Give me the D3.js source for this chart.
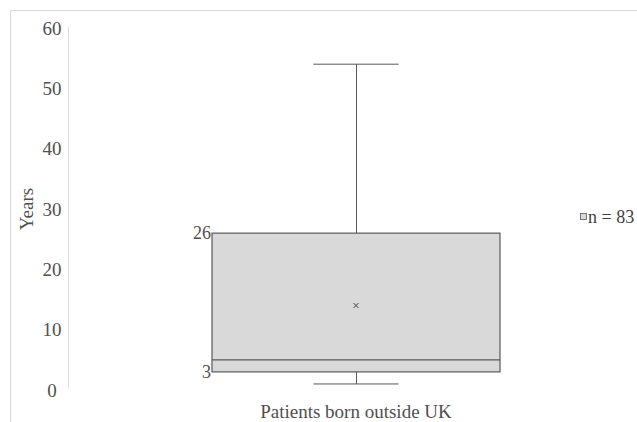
<!DOCTYPE html>
<html><head><meta charset="utf-8">
<script src="https://cdn.jsdelivr.net/npm/d3@7"></script>
<style>body{margin:0;background:#fff}svg{display:block}</style>
</head><body>
<script>
const categories = ["Patients born outside UK"];
const minVals = [1];
const q1Vals = [3];
const medianVals = [5];
const q3Vals = [26];
const maxVals = [54];
const meanVals = [14];
const yTicks = [0, 10, 20, 30, 40, 50, 60];
const legendLabels = ["n = 83"];
const yTitle = "Years";

const W = 637, H = 422;
const svg = d3.select("body").append("svg").attr("width", W).attr("height", H);
const font = "'Liberation Serif', 'Times New Roman', serif";
const textCol = "#505050";

// outer chart border
svg.append("rect").attr("x", 10.5).attr("y", 10.5).attr("width", 700).attr("height", 500)
  .attr("fill", "none").attr("stroke", "#d9d9d9");

const y = d3.scaleLinear().domain([0, 60]).range([390, 28]);

// y axis line
svg.append("line").attr("x1", 68.5).attr("x2", 68.5).attr("y1", y(60) - 1).attr("y2", y(0) - 2)
  .attr("stroke", "#d9d9d9");

const yAxis = d3.axisLeft(y).tickValues(yTicks).tickSize(0).tickPadding(0);
const gy = svg.append("g").attr("transform", "translate(52,0)").call(yAxis)
  .attr("font-family", font).attr("font-size", 19);
gy.select(".domain").remove();
gy.selectAll("text").style("font-family", font).style("font-size", "19px").attr("fill", textCol).attr("text-anchor", "middle");

svg.append("text").attr("transform", `translate(33,${y(30)}) rotate(-90)`)
  .attr("text-anchor", "middle").style("font-family", font).style("font-size", "19px").attr("fill", textCol).text(yTitle);

const x = d3.scaleBand().domain(categories).range([212, 500]);

categories.forEach((c, i) => {
  const boxX0 = x(c), boxX1 = x(c) + x.bandwidth();
  const cx = boxX0 + x.bandwidth() / 2;
  const capHalf = x.bandwidth() * 0.148;
  const g = svg.append("g");
  const stroke = "#595959";
  // whiskers
  g.append("line").attr("x1", cx + .5).attr("x2", cx + .5).attr("y1", y(maxVals[i])).attr("y2", y(q3Vals[i])).attr("stroke", stroke);
  g.append("line").attr("x1", cx + .5).attr("x2", cx + .5).attr("y1", y(q1Vals[i])).attr("y2", y(minVals[i])).attr("stroke", stroke);
  g.append("line").attr("x1", cx - capHalf).attr("x2", cx + capHalf).attr("y1", y(maxVals[i])).attr("y2", y(maxVals[i])).attr("stroke", stroke);
  g.append("line").attr("x1", cx - capHalf).attr("x2", cx + capHalf).attr("y1", y(minVals[i])).attr("y2", y(minVals[i])).attr("stroke", stroke);
  // box
  g.append("rect").attr("x", boxX0).attr("y", y(q3Vals[i])).attr("width", boxX1 - boxX0)
    .attr("height", y(q1Vals[i]) - y(q3Vals[i])).attr("fill", "#d9d9d9").attr("stroke", stroke).attr("stroke-width", 1.2);
  g.append("line").attr("x1", boxX0).attr("x2", boxX1).attr("y1", y(medianVals[i])).attr("y2", y(medianVals[i])).attr("stroke", stroke).attr("stroke-width", 1.2);
  // mean marker
  const my = y(meanVals[i]);
  g.append("path").attr("d", `M${cx-2.5},${my-2.5}L${cx+2.5},${my+2.5}M${cx+2.5},${my-2.5}L${cx-2.5},${my+2.5}`)
    .attr("stroke", "#404040").attr("stroke-width", 1);
  // data labels
  g.append("text").attr("x", boxX0 - 1).attr("y", y(q3Vals[i])).attr("dy", "0.35em").attr("text-anchor", "end")
    .style("font-family", font).style("font-size", "18px").attr("fill", textCol).text(q3Vals[i]);
  g.append("text").attr("x", boxX0 - 1).attr("y", y(q1Vals[i])).attr("dy", "0.35em").attr("text-anchor", "end")
    .style("font-family", font).style("font-size", "18px").attr("fill", textCol).text(q1Vals[i]);
  // category label
  svg.append("text").attr("x", cx).attr("y", 418).attr("text-anchor", "middle")
    .style("font-family", font).style("font-size", "19px").attr("fill", textCol).text(c);
});

// legend
const lg = svg.append("g").attr("transform", "translate(580,217)");
lg.append("rect").attr("x", 0.5).attr("y", -3.5).attr("width", 6).attr("height", 6).attr("fill", "#d9d9d9").attr("stroke", "#595959").attr("stroke-width", 0.8);
lg.append("text").attr("x", 8).attr("y", 0).attr("dy", "0.35em").style("font-family", font).style("font-size", "18px").attr("fill", "#404040").text(legendLabels[0]);
</script>
</body></html>
